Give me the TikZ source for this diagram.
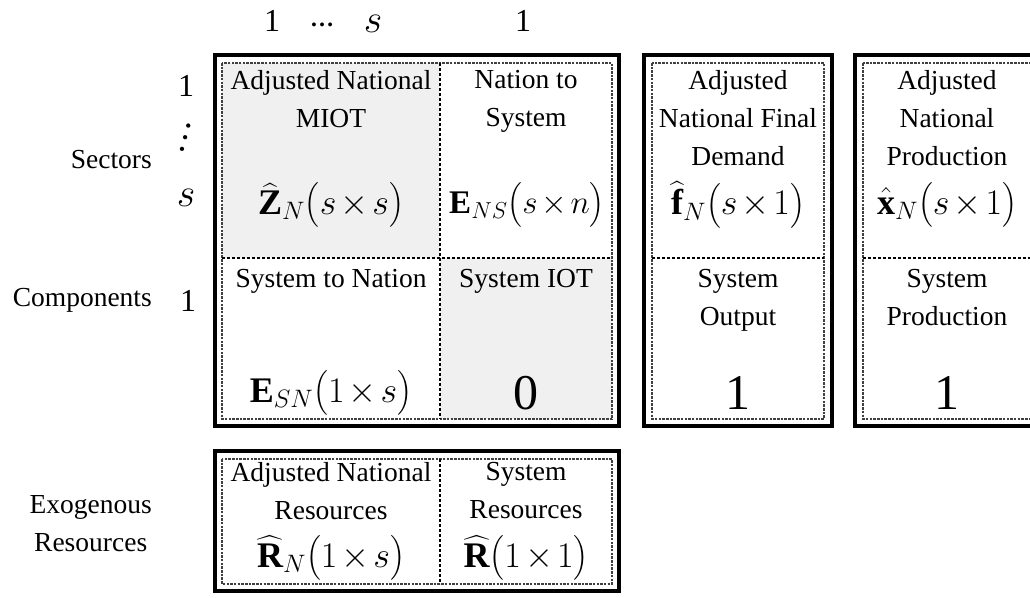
\RequirePackage{fix-cm}
\documentclass[tikz,border=0pt]{standalone}
\usepackage{amsmath}
\usepackage{fontspec}
\setmainfont{Liberation Serif}
\newcommand{\tms}{\mkern2mu{\times}\mkern2mu}
\begin{document}
\begin{tikzpicture}[x=1pt,y=-1pt,
  outerbox/.style={draw=black,line width=3.5pt},
  innerbox/.style={draw=black!75,line width=1.8pt,dash pattern=on 2.5pt off 1.2pt},
  divider/.style={draw=black,line width=2.2pt,dash pattern=on 3pt off 2pt},
  shadecell/.style={fill=black!6},
  lbl/.style={font=\fontsize{27.5}{38}\selectfont,align=center,inner sep=0pt,anchor=north},
  side/.style={font=\fontsize{27.5}{38}\selectfont,align=center,inner sep=0pt,anchor=east},
  idx/.style={font=\fontsize{32}{32}\selectfont,inner sep=0pt,anchor=base},
  idxs/.style={font=\fontsize{40}{40}\selectfont,inner sep=0pt,anchor=base},
  frm/.style={font=\fontsize{36}{36}\selectfont,inner sep=0pt},
  big/.style={font=\fontsize{50}{50}\selectfont,inner sep=0pt}]
\useasboundingbox (0,0) rectangle (1030,597);
% ---------- main box ----------
\fill[shadecell] (222,63) rectangle (440,258);
\fill[shadecell] (440,258) rectangle (612,419);
\draw[outerbox] (215,55) rectangle (619,426);
\draw[innerbox] (222,63) rectangle (612,419);
\draw[divider] (440,63) -- (440,419);
\draw[divider] (222,258) -- (612,258);
% ---------- box 2 ----------
\draw[outerbox] (644,55) rectangle (832,426);
\draw[innerbox] (652,63) rectangle (824,419);
\draw[divider] (652,258) -- (824,258);
% ---------- box 3 ----------
\draw[outerbox] (855,55) rectangle (1045,426);
\draw[innerbox] (863,63) rectangle (1037,419);
\draw[divider] (863,258) -- (1037,258);
% ---------- bottom box ----------
\draw[outerbox] (215,451) rectangle (619,591);
\draw[innerbox] (222,459) rectangle (612,584);
\draw[divider] (440,459) -- (440,584);
% ---------- column indices ----------
\node[idx] (c1) at (272,31) {1};
\node[font=\fontsize{24}{24}\selectfont\bfseries,inner sep=0pt] (cdots) at (322,25) {\ldots};
\node[idxs] (cs) at (373,32) {$s$};
\node[idx] (c2) at (523,31) {1};
% ---------- row indices ----------
\node[idx] (r1) at (186,96) {1};
\node[font=\fontsize{36}{36}\selectfont,inner sep=0pt,rotate=75] (rdots) at (186,138) {\ldots};
\node[idxs] (rs) at (186,206) {$s$};
\node[idx] (r2) at (188,311) {1};
% ---------- side labels ----------
\node[side] (sectors) at (152,160) {Sectors};
\node[side] (components) at (152,300) {Components};
\node[side] (exo) at (152,524) {Exogenous\\Resources};
% ---------- main box cells ----------
\node[lbl] (tlt) at (331,70) {Adjusted National\\MIOT};
\node[frm] (tlf) at (331,205) {$\widehat{\mathbf{Z}}_{N}\bigl(s\tms s\bigr)$};
\node[lbl] (trt) at (526,70) {Nation to\\System};
\node[frm,font=\fontsize{33}{33}\selectfont] (trf) at (527,205) {$\mathbf{E}_{NS}\bigl(s\tms n\bigr)$};
\node[lbl] (blt) at (331,269) {System to Nation};
\node[frm] (blf) at (331,393) {$\mathbf{E}_{SN}\bigl(1\tms s\bigr)$};
\node[lbl] (brt) at (526,269) {System IOT};
\node[big] (brf) at (526,393) {0};
% ---------- box 2 cells ----------
\node[lbl] (b2t) at (738,70) {Adjusted\\National Final\\Demand};
\node[frm] (b2f) at (738,205) {$\widehat{\mathbf{f}}_{N}\bigl(s\tms 1\bigr)$};
\node[lbl] (b2bt) at (738,269) {System\\Output};
\node[big] (b2bf) at (738,393) {1};
% ---------- box 3 cells ----------
\node[lbl] (b3t) at (947,70) {Adjusted\\National\\Production};
\node[frm] (b3f) at (947,205) {$\hat{\mathbf{x}}_{N}\bigl(s\tms 1\bigr)$};
\node[lbl] (b3bt) at (947,269) {System\\Production};
\node[big] (b3bf) at (947,393) {1};
% ---------- bottom box cells ----------
\node[lbl] (rlt) at (331,462) {Adjusted National\\Resources};
\node[frm] (rlf) at (331,558) {$\widehat{\mathbf{R}}_{N}\bigl(1\tms s\bigr)$};
\node[lbl] (rrt) at (526,462) {System\\Resources};
\node[frm] (rrf) at (526,558) {$\widehat{\mathbf{R}}\bigl(1\tms 1\bigr)$};
\end{tikzpicture}
\end{document}
